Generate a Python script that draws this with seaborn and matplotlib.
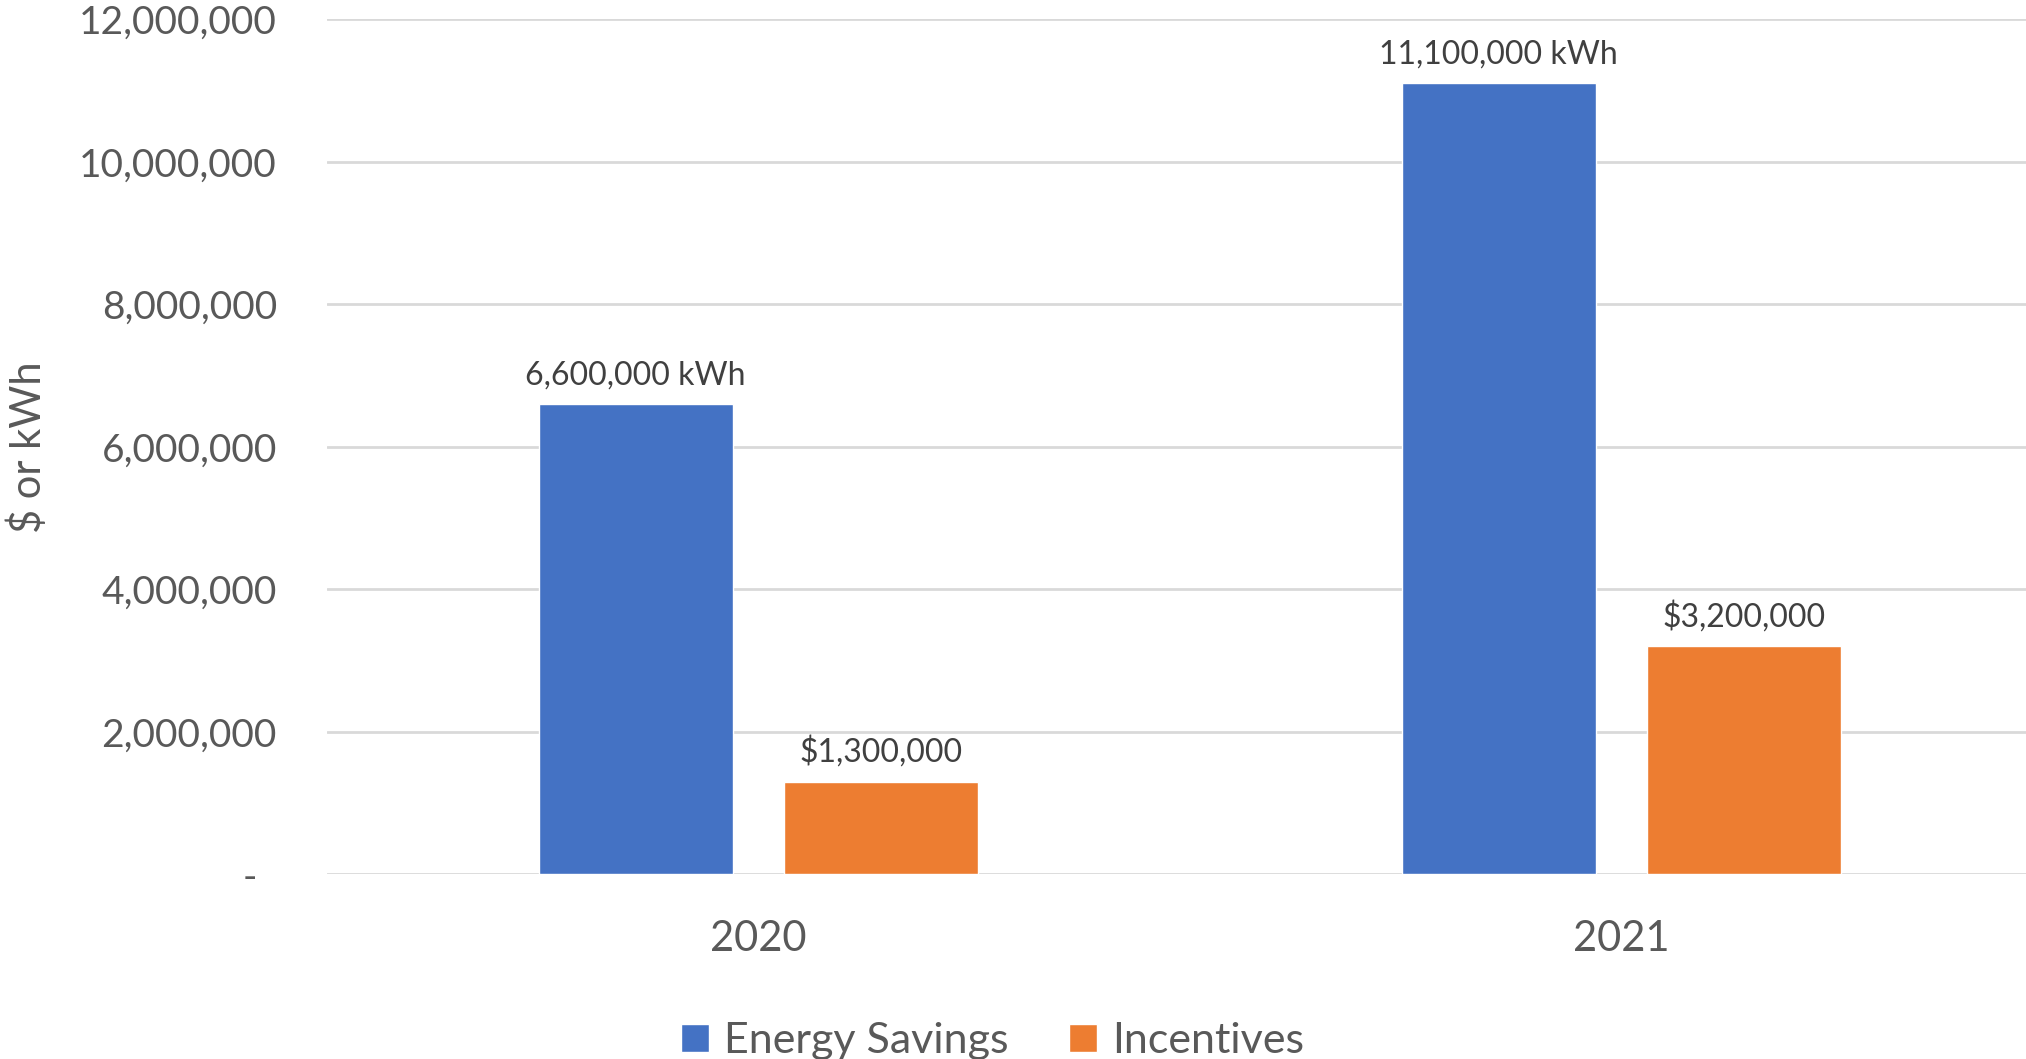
import pandas as pd
import seaborn as sns
import matplotlib.pyplot as plt
from matplotlib.ticker import FuncFormatter

years = ["2020", "2021"]
energy_savings = [6600000, 11100000]
incentives = [1300000, 3200000]
metrics = ["Energy Savings", "Incentives"]
y_ticks = [0, 2000000, 4000000, 6000000, 8000000, 10000000, 12000000]

df = pd.DataFrame({
    "Year": years * 2,
    "Value": energy_savings + incentives,
    "Metric": [metrics[0]] * len(years) + [metrics[1]] * len(years),
})

sns.set_style("white")
plt.rcParams["font.family"] = ["Lato", "DejaVu Sans"]
text_color = "#595959"

fig, ax = plt.subplots(figsize=(20.26, 10.59), dpi=100)
fig.subplots_adjust(left=0.1614, right=1.0, top=0.9817, bottom=0.1744)

sns.barplot(data=df, x="Year", y="Value", hue="Metric",
            palette=["#4472C4", "#ED7D31"], width=0.569, gap=0.21,
            saturation=1, ax=ax)

ax.set_xlim(-0.5, 1.469)
ax.set_ylim(0, 12000000)
ax.set_yticks(y_ticks)
ax.yaxis.set_major_formatter(FuncFormatter(lambda v, p: "-  " if v == 0 else f"{v:,.0f}"))
ax.grid(axis="y", color="#D9D9D9", linewidth=2)
ax.set_axisbelow(True)
for s in ax.spines.values():
    s.set_visible(False)
ax.tick_params(axis="y", length=0, pad=36, labelsize=28, labelcolor=text_color)
ax.tick_params(axis="x", length=0, pad=33, labelsize=30, labelcolor=text_color)

ax.set_xlabel("")
ax.set_ylabel("$ or kWh", fontsize=30, color=text_color)
ax.yaxis.set_label_coords(-0.164, 0.5)

ax.bar_label(ax.containers[0], labels=[f"{v:,.0f} kWh" for v in energy_savings],
             padding=10, fontsize=23, color="#404040")
ax.bar_label(ax.containers[1], labels=[f"${v:,.0f}" for v in incentives],
             padding=10, fontsize=23, color="#404040")

handles, labels = ax.get_legend_handles_labels()
ax.get_legend().remove()
fig.legend(handles, labels, loc="center", bbox_to_anchor=(0.49, 0.017), ncol=2,
           frameon=False, fontsize=31, labelcolor=text_color,
           handlelength=0.65, handleheight=0.65, handletextpad=0.35,
           columnspacing=1.4)

fig.savefig("out.png", dpi=100)
